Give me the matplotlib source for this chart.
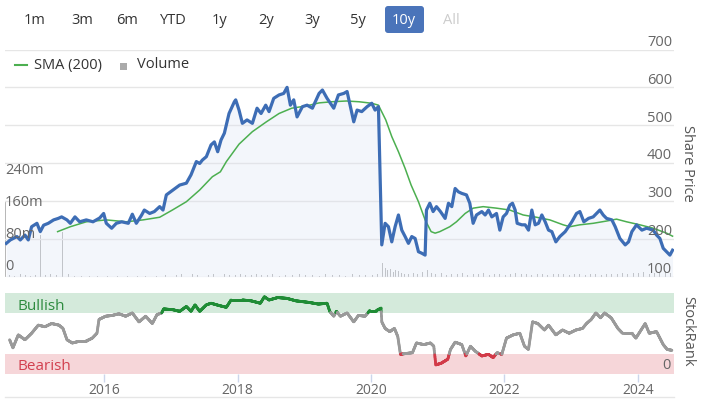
import matplotlib.pyplot as plt
import numpy as np
from matplotlib.collections import LineCollection
from matplotlib.patches import FancyBboxPatch, Rectangle
from matplotlib.lines import Line2D

plt.rcParams['font.family'] = ['Open Sans', 'DejaVu Sans']

# share price (decimal year, price)
price_t = [2014.53, 2014.59, 2014.69, 2014.74, 2014.81, 2014.86, 2014.91, 2014.99, 2015.04, 2015.09,
           2015.16, 2015.24, 2015.31, 2015.36, 2015.44, 2015.49, 2015.56, 2015.63, 2015.73, 2015.83,
           2015.93, 2015.99, 2016.03, 2016.11, 2016.18, 2016.26, 2016.36, 2016.42, 2016.48, 2016.56,
           2016.60, 2016.68, 2016.75, 2016.83, 2016.88, 2016.93, 2017.03, 2017.13, 2017.23, 2017.30,
           2017.38, 2017.43, 2017.47, 2017.53, 2017.60, 2017.65, 2017.70, 2017.75, 2017.80, 2017.87,
           2017.95, 2017.97, 2018.02, 2018.07, 2018.14, 2018.22, 2018.29, 2018.35, 2018.42, 2018.47,
           2018.54, 2018.62, 2018.69, 2018.74, 2018.79, 2018.84, 2018.89, 2018.97, 2019.04, 2019.12,
           2019.22, 2019.27, 2019.34, 2019.44, 2019.51, 2019.59, 2019.64, 2019.69, 2019.74, 2019.79,
           2019.86, 2019.94, 2020.01, 2020.06, 2020.11, 2020.16, 2020.21, 2020.26, 2020.31, 2020.36,
           2020.41, 2020.46, 2020.51, 2020.56, 2020.61, 2020.66, 2020.71, 2020.76, 2020.81, 2020.83,
           2020.88, 2020.93, 2020.98,
           2021.04, 2021.11, 2021.16, 2021.21, 2021.26, 2021.31, 2021.36, 2021.43, 2021.48, 2021.53,
           2021.58, 2021.66, 2021.71, 2021.76, 2021.81, 2021.88, 2021.93, 2021.98, 2022.03, 2022.08,
           2022.12, 2022.16, 2022.19, 2022.26, 2022.31, 2022.36, 2022.41, 2022.46, 2022.51, 2022.56,
           2022.61, 2022.66, 2022.71, 2022.77, 2022.83, 2022.91, 2022.96, 2023.01, 2023.08, 2023.13,
           2023.19, 2023.26, 2023.33, 2023.38, 2023.43, 2023.48, 2023.53, 2023.61, 2023.66, 2023.73,
           2023.81, 2023.86, 2023.91, 2023.98, 2024.06, 2024.13, 2024.23, 2024.28, 2024.33, 2024.38,
           2024.43, 2024.48, 2024.52]
price = [188, 197, 206, 197, 210, 197, 232, 241, 219, 236,
         241, 250, 254, 258, 250, 241, 258, 245, 250, 245,
         255, 267, 241, 228, 241, 245, 241, 265, 241, 263,
         276, 267, 272, 285, 276, 316, 329, 342, 347, 369,
         404, 399, 408, 417, 448, 456, 430, 461, 479, 531,
         562, 567, 540, 505, 514, 505, 545, 531, 553, 536,
         571, 580, 584, 600, 553, 567, 522, 549, 553, 545,
         584, 593, 571, 545, 580, 584, 589, 549, 509, 540,
         536, 549, 558, 540, 549, 184, 241, 232, 192, 232,
         263, 223, 206, 188, 206, 201, 166, 162, 157, 276,
         294, 272, 285,
         272, 254, 294, 285, 333, 324, 320, 316, 294, 241,
         263, 272, 263, 276, 258, 267, 223, 258, 267, 289,
         294, 276, 241, 237, 237, 223, 276, 237, 241, 263,
         245, 223, 219, 192, 206, 219, 232, 245, 267, 272,
         245, 254, 258, 267, 276, 263, 254, 250, 232, 201,
         184, 192, 219, 237, 223, 228, 223, 210, 201, 175,
         166, 157, 170]

# 200 day moving average
sma_t = [2015.30, 2015.49, 2015.73, 2016.03, 2016.33, 2016.58, 2016.83, 2017.02, 2017.23, 2017.43,
         2017.62, 2017.74, 2017.83, 2018.02, 2018.22, 2018.43, 2018.62, 2018.81, 2019.03, 2019.22,
         2019.41, 2019.63, 2019.82, 2020.01, 2020.11, 2020.22, 2020.31, 2020.41, 2020.51, 2020.60,
         2020.71, 2020.81, 2020.90, 2020.96, 2021.03, 2021.18, 2021.28, 2021.41, 2021.53, 2021.68,
         2021.88, 2022.08, 2022.28, 2022.48, 2022.68, 2022.88, 2022.98, 2023.13, 2023.33, 2023.53,
         2023.68, 2023.83, 2024.03, 2024.23, 2024.43, 2024.52]
sma = [219, 232, 245, 250, 245, 250, 257, 276, 298, 329,
       364, 377, 404, 450, 483, 509, 531, 545, 551, 559,
       562, 564, 562, 558, 553, 514, 470, 430, 386, 342,
       298, 250, 219, 215, 219, 232, 245, 267, 281, 285,
       281, 276, 263, 257, 250, 237, 232, 237, 241, 247,
       252, 245, 237, 228, 215, 207]

# volume, millions
vol_t = [2014.52, 2014.58, 2014.66, 2014.74, 2014.82, 2014.90, 2014.97, 2015.04, 2015.12, 2015.20,
         2015.28, 2015.38, 2015.46, 2015.56, 2015.66, 2015.78, 2015.90, 2016.05, 2016.20, 2016.35,
         2016.50, 2016.62, 2016.78, 2016.92, 2017.00, 2017.08, 2017.16, 2017.24, 2017.32, 2017.40,
         2017.48, 2017.56, 2017.64, 2017.72, 2017.80, 2017.88, 2017.96, 2018.04, 2018.12, 2018.20,
         2018.28, 2018.36, 2018.44, 2018.52, 2018.62, 2018.72, 2018.82, 2018.92, 2019.02, 2019.12,
         2019.22, 2019.32, 2019.42, 2019.52, 2019.62, 2019.72, 2019.82, 2019.92, 2020.02, 2020.10,
         2020.17, 2020.21, 2020.25, 2020.29, 2020.33, 2020.37, 2020.41, 2020.45, 2020.50, 2020.56,
         2020.63, 2020.70, 2020.77, 2020.84, 2020.90, 2020.97, 2021.05, 2021.13, 2021.21, 2021.29,
         2021.37, 2021.45, 2021.53, 2021.61, 2021.69, 2021.77, 2021.85, 2021.93, 2022.01, 2022.09,
         2022.17, 2022.25, 2022.33, 2022.41, 2022.49, 2022.57, 2022.65, 2022.73, 2022.81, 2022.89,
         2022.97, 2023.05, 2023.13, 2023.21, 2023.29, 2023.37, 2023.45, 2023.53, 2023.61, 2023.69,
         2023.77, 2023.85, 2023.93, 2024.01, 2024.09, 2024.17, 2024.25, 2024.33, 2024.41, 2024.49]
vol_m = [187, 5, 3, 6, 4, 3, 5, 104, 4, 6,
         5, 112, 8, 3, 2, 3, 2, 3, 2, 3,
         2, 3, 2, 4, 9, 5, 6, 4, 7, 5,
         6, 4, 7, 5, 6, 4, 5, 6, 4, 5,
         7, 4, 5, 6, 3, 5, 4, 6, 4, 5,
         3, 6, 4, 5, 3, 6, 4, 5, 4, 6,
         34, 22, 16, 20, 12, 18, 14, 10, 8, 6,
         9, 7, 12, 16, 9, 6, 10, 5, 8, 6,
         9, 5, 7, 6, 9, 5, 8, 6, 5, 7,
         9, 6, 8, 5, 7, 6, 5, 8, 6, 7,
         5, 6, 8, 5, 6, 7, 5, 6, 8, 7,
         9, 8, 10, 9, 11, 8, 10, 12, 14, 9]

# StockRank
rank_t = [2014.58, 2014.63, 2014.71, 2014.81, 2014.91, 2015.01, 2015.11, 2015.21, 2015.32, 2015.38,
          2015.44, 2015.52, 2015.62, 2015.72, 2015.82, 2015.89, 2015.92, 2016.02, 2016.12, 2016.22,
          2016.32, 2016.42, 2016.52, 2016.62, 2016.72, 2016.79, 2016.86, 2016.89, 2017.03, 2017.13,
          2017.23, 2017.30, 2017.36, 2017.43, 2017.53, 2017.60, 2017.73, 2017.83, 2017.90, 2018.07,
          2018.20, 2018.34, 2018.40, 2018.47, 2018.60, 2018.74, 2018.87, 2019.07, 2019.21, 2019.34,
          2019.38, 2019.44, 2019.48, 2019.54, 2019.64, 2019.74, 2019.81, 2019.91, 2019.98, 2020.08,
          2020.15, 2020.16, 2020.21, 2020.28, 2020.35, 2020.40, 2020.44, 2020.52, 2020.62, 2020.68,
          2020.79, 2020.89, 2020.94, 2020.97, 2021.05, 2021.15, 2021.19, 2021.26, 2021.36, 2021.42,
          2021.49, 2021.56, 2021.66, 2021.76, 2021.83, 2021.89, 2021.96, 2022.03, 2022.13, 2022.23,
          2022.30, 2022.36, 2022.42, 2022.50, 2022.60, 2022.66, 2022.77, 2022.87, 2022.97, 2023.07,
          2023.17, 2023.23, 2023.30, 2023.37, 2023.44, 2023.50, 2023.60, 2023.70, 2023.77, 2023.91,
          2023.97, 2024.11, 2024.17, 2024.28, 2024.38, 2024.44, 2024.51]
rank = [42, 32, 48, 42, 50, 60, 58, 62, 60, 56,
        42, 38, 40, 40, 44, 50, 67, 71, 72, 74,
        71, 75, 64, 71, 62, 73, 75, 80, 79, 77,
        83, 77, 85, 77, 85, 87, 84, 82, 91, 91,
        90, 87, 95, 91, 94, 93, 90, 88, 86, 87,
        77, 71, 77, 71, 75, 64, 72, 71, 78, 78,
        81, 64, 56, 52, 56, 46, 24, 25, 26, 38,
        36, 38, 34, 11, 13, 18, 30, 39, 36, 22,
        34, 28, 22, 24, 20, 26, 24, 44, 48, 50,
        34, 30, 64, 62, 54, 60, 48, 54, 50, 54,
        56, 62, 67, 75, 69, 75, 69, 56, 50, 50,
        44, 62, 50, 52, 36, 30, 29]

years = [2016, 2018, 2020, 2022, 2024]
price_ticks = [100, 200, 300, 400, 500, 600, 700]
vol_ticks = [0, 80, 160, 240]
buttons = ['1m', '3m', '6m', 'YTD', '1y', '2y', '3y', '5y', '10y', 'All']

W, H = 702, 399
fig = plt.figure(figsize=(W / 100, H / 100), dpi=100)


def px_box(x0, y0, x1, y1):
    return [x0 / W, 1 - y1 / H, (x1 - x0) / W, (y1 - y0) / H]


x0, x1 = 2014.511, 2024.534

# volume underneath, price on top
ax_vol = fig.add_axes(px_box(5, 49.5, 673.5, 276.7))
ax = fig.add_axes(px_box(5, 49.5, 673.5, 276.7), facecolor='none')
ax_rank = fig.add_axes(px_box(5, 292.7, 673.5, 373.8))

ax_vol.bar(vol_t, vol_m, width=0.014, color='#b8b8b8', linewidth=0)
ax_vol.set_xticks([])
ax_vol.set_yticks([])
ax_vol.set_xlim(x0, x1)
ax_vol.set_ylim(0, 568)
for s in ax_vol.spines.values():
    s.set_visible(False)

for p in price_ticks:
    ax.axhline(p, color='#e6e6e6', lw=1, zorder=0)
ax.fill_between(price_t, price, 100, color='#d9e2f3', alpha=0.3, lw=0)
ax.plot(sma_t, sma, color='#4caf50', lw=1.1)
ax.plot(price_t, price, color='#3d6db5', lw=2.3, solid_joinstyle='round')
ax.set_xticks([])
ax.set_yticks([])
ax.set_xlim(x0, x1)
ax.set_ylim(100, 700)
for s in ax.spines.values():
    s.set_visible(False)

for p in price_ticks:
    ax.annotate(str(p), (1, p), xycoords=ax.get_yaxis_transform(), xytext=(-1, 5.2),
                textcoords='offset points', ha='right', va='center', fontsize=10.5, color='#666666')
for v in vol_ticks:
    lab = '0' if v == 0 else f'{v}m'
    ax.annotate(lab, (0, v), xycoords=ax_vol.get_yaxis_transform(), xytext=(0, 7.2),
                textcoords='offset points', ha='left', va='center', fontsize=10.5, color='#666666')

# stockrank panel
ax_rank.axhspan(75, 100, color='#d4eadb', lw=0)
ax_rank.axhspan(0, 25, color='#f6d6d9', lw=0)
tt = np.linspace(rank_t[0], rank_t[-1], 3000)
rr = np.interp(tt, rank_t, rank)
pts = np.column_stack([tt, rr]).reshape(-1, 1, 2)
segs = np.concatenate([pts[:-1], pts[1:]], axis=1)
mid = (rr[:-1] + rr[1:]) / 2
cols = np.where(mid > 75.5, '#1f8c35', np.where(mid < 24.5, '#d23a48', '#9a9a9a'))
ax_rank.add_collection(LineCollection(segs, colors=cols, linewidths=2.0, capstyle='round'))
ax_rank.set_xlim(x0, x1)
ax_rank.set_ylim(0, 100)
ax_rank.set_yticks([])
ax_rank.set_xticks(years)
ax_rank.set_xticklabels([str(y) for y in years])
ax_rank.tick_params(axis='x', length=6, width=1, color='#ccd6eb', pad=0.5,
                    labelsize=10, labelcolor='#666666')
for s in ax_rank.spines.values():
    s.set_visible(False)
ax_rank.text(0.019, 0.836, 'Bullish', transform=ax_rank.transAxes, fontsize=11,
             color='#2e8b3f', va='center')
ax_rank.text(0.019, 0.09, 'Bearish', transform=ax_rank.transAxes, fontsize=11,
             color='#d2404f', va='center')
ax_rank.text(0.995, 0.10, '0', transform=ax_rank.transAxes, fontsize=10.5,
             color='#666666', va='center', ha='right')

fig.add_artist(Line2D([5 / W, 673.5 / W], [1 - 397 / H] * 2, color='#e6e6e6', lw=1))

# axis titles
fig.text(688 / W, 1 - 163 / H, 'Share Price', rotation=270, ha='center', va='center',
         fontsize=10.5, color='#555555')
fig.text(688 / W, 1 - 331 / H, 'StockRank', rotation=270, ha='center', va='center',
         fontsize=10.5, color='#555555')

# range buttons
btn_x = [35, 82, 127, 173, 220, 266, 312, 358, 404, 451]
fig.add_artist(FancyBboxPatch((3.85, (H - 33) / 100), 0.39, 0.27,
                              boxstyle='round,pad=0,rounding_size=0.03',
                              transform=fig.dpi_scale_trans, fc='#4a74ba', ec='none'))
for b, bx in zip(buttons, btn_x):
    c = '#ffffff' if b == '10y' else ('#cccccc' if b == 'All' else '#333333')
    fig.text(bx / W, 1 - 20 / H, b, ha='center', va='center', fontsize=10.5, color=c)

# legend
fig.add_artist(Line2D([15 / W, 27 / W], [1 - 65 / H] * 2, color='#4caf50', lw=1.5))
fig.text(34 / W, 1 - 65 / H, 'SMA (200)', ha='left', va='center', fontsize=10.5, color='#333333')
fig.add_artist(Rectangle((120 / W, 1 - 69.5 / H), 7 / W, 7 / H, transform=fig.transFigure,
                         fc='#aaaaaa', ec='none'))
fig.text(137 / W, 1 - 65 / H, 'Volume', ha='left', va='center', fontsize=10.5, color='#333333')

plt.savefig('out.png', dpi=100)
